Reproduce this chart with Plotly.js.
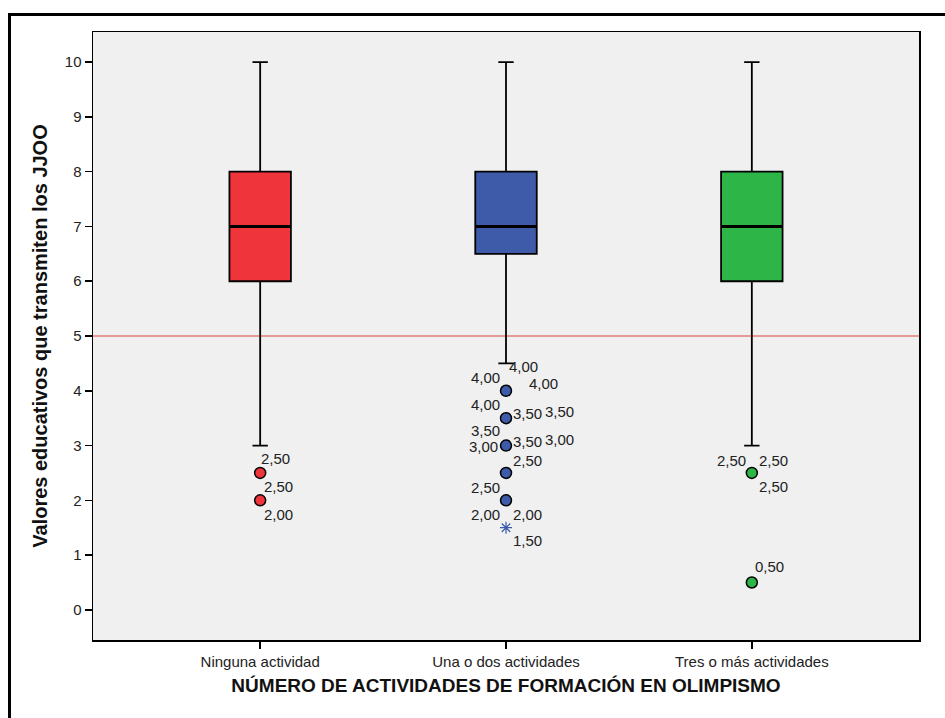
<!DOCTYPE html>
<html>
<head>
<meta charset="utf-8">
<script src="https://cdn.plot.ly/plotly-3.0.1.min.js"></script>
<style>
  body { margin: 0; background: #fff; }
  #wrap { position: relative; width: 945px; height: 718px; overflow: hidden; }
  #grafico { width: 945px; height: 718px; }
  #marco { position: absolute; left: 8px; top: 13px; width: 960px; height: 760px;
           border-left: 3px solid #000; border-top: 3px solid #000; pointer-events: none; }
</style>
</head>
<body>
<div id="wrap">
  <div id="grafico"></div>
  <div id="marco"></div>
</div>
<script>
const grupos = ['Ninguna actividad', 'Una o dos actividades', 'Tres o más actividades'];
const colores = ['#F0343C', '#3D5BA9', '#2EB548'];

const minimo  = [3, 4.5, 3];
const q1      = [6, 6.5, 6];
const mediana = [7, 7, 7];
const q3      = [8, 8, 8];
const maximo  = [10, 10, 10];

// valores atípicos (círculos) y extremos (asterisco)
const atipicos = [
  [2.5, 2.0],
  [4.0, 3.5, 3.0, 2.5, 2.0],
  [2.5, 0.5]
];
const extremos = [[], [1.5], []];

// etiquetas de casos: grupo, valor
const etiqGrupo = [0, 0, 0,
  1, 1, 1, 1, 1, 1, 1, 1, 1, 1, 1, 1, 1, 1, 1,
  2, 2, 2, 2];
const etiqValor = [2.5, 2.5, 2.0,
  4.0, 4.0, 4.0, 4.0, 3.5, 3.5, 3.5, 3.5, 3.0, 3.0, 2.5, 2.5, 2.0, 2.0, 1.5,
  2.5, 2.5, 2.5, 0.5];
// desplazamiento de cada etiqueta en píxeles (dx, dy hacia abajo)
const etiqDx = [15, 18, 18,
  17, -21, 37, -21, 21, 53, -21, 21, -23, 53, 21, -21, -21, 21, 21,
  -20, 22, 22, 18];
const etiqDy = [-14, 14, 14,
  -24, -13, -7, 14, -5, -7, 12, 23, 1, -6, -12, 15, 14, 14, 13,
  -12, -12, 14, -16];

const fmt = v => v.toFixed(2).replace('.', ',');
const fuente = 'Liberation Sans, Arial, sans-serif';
const anchoCaja = 0.25;

const trazas = [];
grupos.forEach((g, i) => {
  trazas.push({
    type: 'box',
    x: [g],
    q1: [q1[i]], median: [mediana[i]], q3: [q3[i]],
    lowerfence: [minimo[i]], upperfence: [maximo[i]],
    boxpoints: false,
    width: anchoCaja,
    whiskerwidth: 0.25,
    fillcolor: colores[i],
    line: { color: '#000', width: 1.8 },
    hoverinfo: 'skip'
  });
  trazas.push({
    type: 'scatter', mode: 'markers',
    x: atipicos[i].map(() => g), y: atipicos[i],
    marker: { size: 11, color: colores[i], line: { color: '#000', width: 1.5 } },
    hoverinfo: 'skip'
  });
  if (extremos[i].length) {
    trazas.push({
      type: 'scatter', mode: 'markers',
      x: extremos[i].map(() => g), y: extremos[i],
      marker: { size: 10, symbol: 'asterisk-open', color: colores[i], line: { color: colores[i], width: 1.2 } },
      hoverinfo: 'skip'
    });
  }
});

// mediana más gruesa, como en SPSS
const lineasMediana = mediana.map((m, i) => ({
  type: 'line', xref: 'x', yref: 'y',
  x0: i - anchoCaja / 2, x1: i + anchoCaja / 2, y0: m, y1: m,
  line: { color: '#000', width: 3 }, layer: 'above'
}));

const anotaciones = etiqValor.map((v, k) => ({
  x: grupos[etiqGrupo[k]], y: v,
  xref: 'x', yref: 'y',
  text: fmt(v), showarrow: false,
  xshift: etiqDx[k], yshift: -etiqDy[k],
  font: { family: fuente, size: 15, color: '#222' }
}));

const layout = {
  width: 945, height: 718,
  margin: { l: 93, r: 26, t: 32, b: 78 },
  paper_bgcolor: '#fff',
  plot_bgcolor: '#F0F0F0',
  showlegend: false,
  boxmode: 'overlay',
  font: { family: fuente, size: 15, color: '#222' },
  xaxis: {
    type: 'category',
    range: [-0.68, 2.68],
    showgrid: false, zeroline: false,
    showline: true, mirror: true, linecolor: '#000', linewidth: 1.5,
    ticks: 'outside', ticklen: 7, tickcolor: '#000', tickwidth: 1.5,
    tickfont: { size: 15, color: '#222' },
    title: { text: 'NÚMERO DE ACTIVIDADES DE FORMACIÓN EN OLIMPISMO', standoff: 10,
             font: { size: 19, color: '#111', family: fuente, weight: 'bold' } }
  },
  yaxis: {
    range: [-0.55, 10.55],
    tickvals: [0, 1, 2, 3, 4, 5, 6, 7, 8, 9, 10],
    showgrid: false, zeroline: false,
    showline: true, mirror: true, linecolor: '#000', linewidth: 1.5,
    ticks: 'outside', ticklen: 7, tickcolor: '#000', tickwidth: 1.5,
    tickfont: { size: 15, color: '#222' },
    title: { text: 'Valores educativos que transmiten los JJOO', standoff: 12,
             font: { size: 20, color: '#111', family: fuente, weight: 'bold' } }
  },
  shapes: [{
    type: 'line', xref: 'paper', yref: 'y', x0: 0, x1: 1, y0: 5, y1: 5,
    line: { color: '#E0403F', width: 1 }, layer: 'below'
  }].concat(lineasMediana),
  annotations: anotaciones
};

Plotly.newPlot('grafico', trazas, layout, { displayModeBar: false, staticPlot: true });
</script>
</body>
</html>
